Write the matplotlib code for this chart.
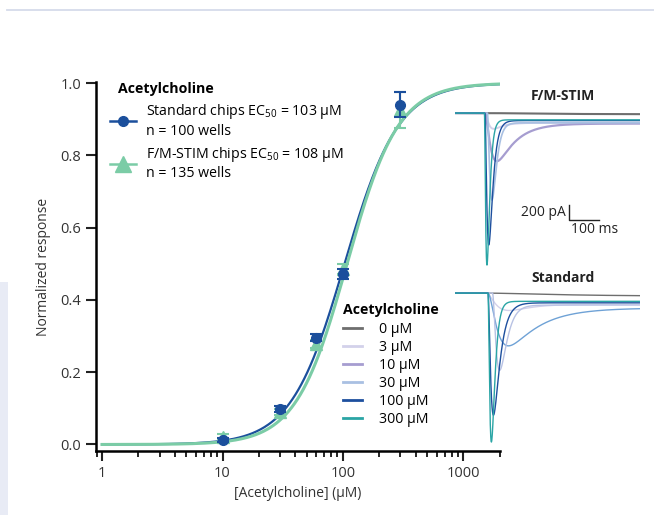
import numpy as np
import matplotlib.pyplot as plt
from matplotlib.lines import Line2D
from matplotlib.patches import Rectangle

plt.rcParams['font.family'] = ['Open Sans', 'DejaVu Sans']
plt.rcParams['mathtext.default'] = 'regular'

# dose-response points (normalized)
conc = [10, 30, 60, 100, 300]
std_mean = [0.012, 0.098, 0.295, 0.472, 0.940]
std_err = [0.006, 0.008, 0.010, 0.014, 0.035]
fm_mean = [0.022, 0.090, 0.278, 0.485, 0.925]
fm_err = [0.008, 0.008, 0.010, 0.014, 0.050]

# Hill fits
std_ec50, std_hill = 103, 1.95
fm_ec50, fm_hill = 108, 2.05

# example current traces
trace_labels = ['0 µM', '3 µM', '10 µM', '30 µM', '100 µM', '300 µM']
legend_colors = ['#6e6e6e', '#d3d1ea', '#a69dd0', '#a9c0e2', '#1d4f9e', '#2aa5a5']

# F/M-STIM: onset (ms), peak (pA), rise tau (ms), decay tau (ms), steady state (pA)
fm_colors = ['#6e6e6e', '#d3d1ea', '#a69dd0', '#a9c0e2', '#1d4f9e', '#2aa5a5']
fm_widths = [1.5, 1.4, 1.6, 1.2, 1.0, 1.0]
fm_onset = [95, 100, 100, 108, 100, 98]
fm_peak = [15, 200, 640, 1160, 1760, 2030]
fm_rise = [150, 12, 18, 16, 10, 7]
fm_decay = [1, 30, 60, 12, 12, 8]
fm_steady = [15, 130, 140, 130, 100, 90]

# Standard chips
std_colors = ['#6e6e6e', '#d3d1ea', '#6fa2d6', '#b8c2e4', '#1d4f9e', '#2aa5a5']
std_widths = [1.0, 1.0, 1.0, 1.0, 1.0, 1.0]
std_onset = [95, 105, 110, 125, 110, 110]
std_peak = [40, 220, 700, 1030, 1630, 1990]
std_rise = [200, 40, 30, 22, 12, 10]
std_decay = [1, 60, 100, 20, 20, 10]
std_steady = [40, 150, 200, 160, 130, 110]

scale_pa = 200
scale_ms = 100

blue = '#1b4f9c'
green = '#7bcca6'


def hill(x, ec50, n):
    return x ** n / (x ** n + ec50 ** n)


def trace(t, onset, peak, tr, td, ss):
    s = np.clip(t - onset, 0, None)
    rise = (1 - np.exp(-s / tr)) ** 2
    if peak <= ss:
        return -ss * rise
    g = rise * np.exp(-s / td)
    i = np.argmax(g)
    amp = (peak - ss * rise[i]) / g[i]
    return -(ss * rise + amp * g)


fig = plt.figure(figsize=(6.54, 5.15), dpi=100)

# page decorations
fig.add_artist(Line2D([7 / 654, 1], [1 - 10 / 515, 1 - 10 / 515], color='#d5dbea', lw=1.3))
fig.add_artist(Rectangle((0, 0), 8 / 654, (515 - 282) / 515, color='#e8ebf5', lw=0))

ax = fig.add_axes([96 / 654, 1 - 451 / 515, (500 - 96) / 654, (451 - 82) / 515])

xfit = np.logspace(0, np.log10(2000), 400)
ax.plot(xfit, hill(xfit, std_ec50, std_hill), color=blue, lw=1.6, zorder=2)
ax.plot(xfit, hill(xfit, fm_ec50, fm_hill), color=green, lw=2.2, zorder=3)

ax.errorbar(conc, fm_mean, yerr=fm_err, fmt='^', color=green, ms=9, capsize=4,
            elinewidth=1.5, capthick=1.5, zorder=4)
ax.errorbar(conc, std_mean, yerr=std_err, fmt='o', color=blue, ms=7, capsize=4,
            elinewidth=1.5, capthick=1.5, zorder=5)

ax.set_xscale('log')
ax.set_xlim(0.891, 2010)
ax.set_ylim(-0.018, 1.003)
ax.set_xticks([1, 10, 100, 1000])
ax.set_xticklabels(['1', '10', '100', '1000'])
ax.set_yticks([0, 0.2, 0.4, 0.6, 0.8, 1.0])
ax.set_yticklabels(['0.0', '0.2', '0.4', '0.6', '0.8', '1.0'])
for s in ['top', 'right']:
    ax.spines[s].set_visible(False)
for s in ['left', 'bottom']:
    ax.spines[s].set_linewidth(1.8)
ax.tick_params(which='major', direction='out', length=7, width=1.5, labelsize=10.5,
               colors='#222222', labelcolor='#333333')
ax.tick_params(which='minor', direction='out', length=4, width=1.2)
ax.set_xlabel('[Acetylcholine] (µM)', fontsize=10, color='#333333', labelpad=4)
ax.set_ylabel('Normalized response', fontsize=10, color='#333333', labelpad=7)

h1 = Line2D([], [], color=blue, marker='o', ms=7, lw=1.8)
h2 = Line2D([], [], color=green, marker='^', ms=11, lw=1.8)
leg1 = ax.legend([h1, h2],
                 ['Standard chips EC$_{50}$ = 103 µM\nn = 100 wells',
                  'F/M-STIM chips EC$_{50}$ = 108 µM\nn = 135 wells'],
                 title='Acetylcholine', loc='upper left', bbox_to_anchor=(0.035, 1.0),
                 frameon=False, alignment='left', handlelength=1.8, fontsize=10.2,
                 title_fontproperties={'weight': 'bold', 'size': 10.2},
                 labelspacing=0.45, handletextpad=0.7, borderpad=0, borderaxespad=0)
leg1.get_title().set_position((8, 0))
ax.add_artist(leg1)

handles = [Line2D([], [], color=c, lw=2) for c in legend_colors]
leg2 = ax.legend(handles, trace_labels, title='Acetylcholine', loc='upper left',
                 bbox_to_anchor=(0.612, 0.394), frameon=False, alignment='left',
                 handlelength=1.3, fontsize=10.2,
                 title_fontproperties={'weight': 'bold', 'size': 10.2},
                 labelspacing=0.2, handletextpad=1.2, borderpad=0, borderaxespad=0)
leg2.get_title().set_position((0, 3))

t = np.arange(0, 616, 0.5)


def inset(top_px, title, colors, widths, onset, peak, rise, decay, steady, title_gap):
    a = fig.add_axes([455 / 654, 1 - (top_px + 174) / 515, 185 / 654, 174 / 515])
    for c, w, o, p, r, d, s in zip(colors, widths, onset, peak, rise, decay, steady):
        a.plot(t, trace(t, o, p, r, d, s), color=c, lw=w)
    a.set_xlim(0, 616)
    a.set_ylim(-2150, 175)
    a.axis('off')
    a.text(0.584, 1 + title_gap / 174, title, transform=a.transAxes, ha='center', va='center',
           fontsize=10, fontweight='bold', color='#222222')
    return a


ax_fm = inset(100, 'F/M-STIM', fm_colors, fm_widths, fm_onset, fm_peak, fm_rise, fm_decay,
              fm_steady, 4)
ax_std = inset(280, 'Standard', std_colors, std_widths, std_onset, std_peak, std_rise,
               std_decay, std_steady, 2)

# scale bar
bx, by = 380, -1427
ax_fm.plot([bx, bx, bx + scale_ms], [by + scale_pa, by, by], color='#222222', lw=1.0)
ax_fm.text(bx - 10, by + scale_pa / 2, f'{scale_pa} pA', ha='right', va='center',
           fontsize=10, color='#222222')
ax_fm.text(bx + 5, by - 30, f'{scale_ms} ms', ha='left', va='top', fontsize=10, color='#222222')

plt.savefig('out.png', dpi=100)
